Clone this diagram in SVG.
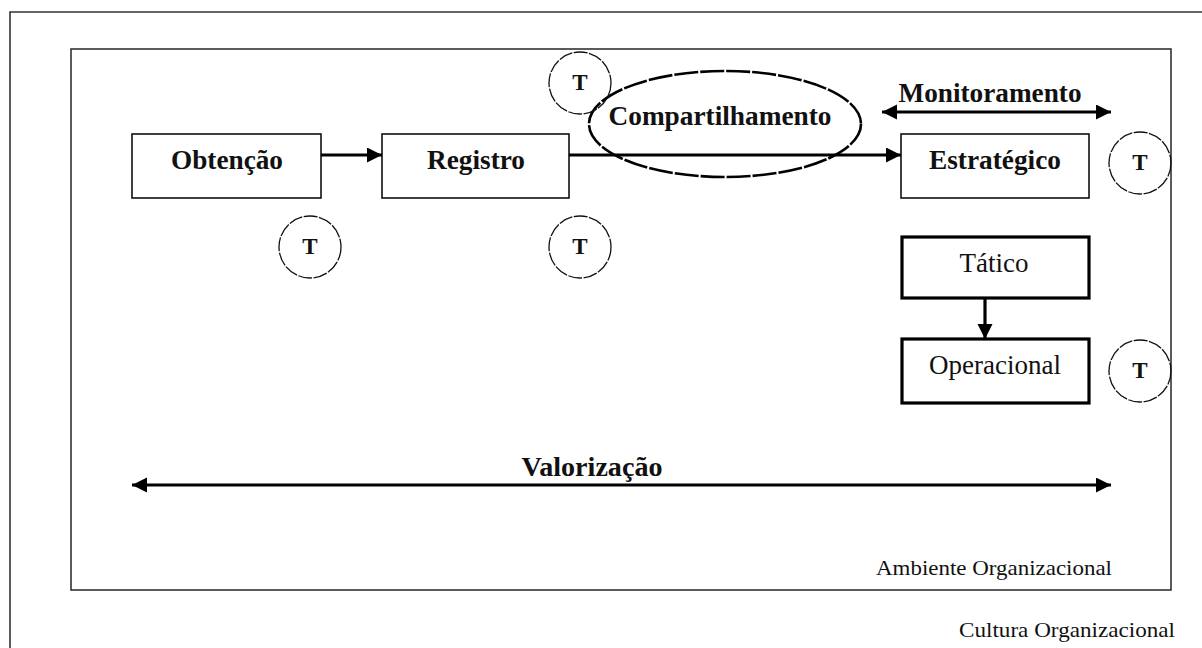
<svg xmlns="http://www.w3.org/2000/svg" width="1202" height="648" viewBox="0 0 1202 648">
<style>
.frame{fill:none;stroke:#333;stroke-width:1.6}
.box{fill:#fff;stroke:#111;stroke-width:1.6}
.tbox{fill:#fff;stroke:#000;stroke-width:3.2}
.tc{fill:none;stroke:#111;stroke-width:1.3;stroke-dasharray:14 1.5}
.lbl{font-family:"Liberation Serif","Times New Roman",serif;font-size:27px;fill:#111;text-anchor:middle}
.b{font-weight:bold}
.env{font-family:"Liberation Serif","Times New Roman",serif;font-size:22px;fill:#111}
.t{font-family:"Liberation Serif","Times New Roman",serif;font-size:23px;font-weight:bold;fill:#111;text-anchor:middle}
.conn{stroke:#000;stroke-width:3.2;fill:none}
</style>
<defs>
<marker id="ah" markerUnits="userSpaceOnUse" markerWidth="16" markerHeight="16" refX="15" refY="7.5" orient="auto-start-reverse">
<path d="M0,0 L15,7.5 L0,15 z" fill="#000"/>
</marker>
</defs>
<rect width="1202" height="648" fill="#fff"/>
<g id="cultura">
<path class="frame" d="M10,660 L10,12 L1215,12"/>
<text class="env" x="959" y="637" textLength="216" lengthAdjust="spacingAndGlyphs">Cultura Organizacional</text>
</g>
<g id="ambiente">
<rect class="frame" x="71" y="49" width="1100" height="541"/>
<text class="env" x="876" y="575" textLength="236" lengthAdjust="spacingAndGlyphs">Ambiente Organizacional</text>
</g>
<g id="compartilhamento">
<ellipse cx="725" cy="124" rx="136" ry="53" fill="none" stroke="#000" stroke-width="2.6" stroke-dasharray="24 2"/>
<text class="lbl b" x="720" y="125" textLength="223" lengthAdjust="spacingAndGlyphs">Compartilhamento</text>
</g>
<g id="obtencao">
<rect class="box" x="132" y="134" width="189" height="64"/>
<text class="lbl b" x="227" y="169" textLength="112" lengthAdjust="spacingAndGlyphs">Obtenção</text>
</g>
<g id="registro">
<rect class="box" x="382" y="134" width="187" height="64"/>
<text class="lbl b" x="476" y="169" textLength="98" lengthAdjust="spacingAndGlyphs">Registro</text>
</g>
<g id="estrategico">
<rect class="box" x="901" y="134" width="188" height="64"/>
<text class="lbl b" x="995" y="169" textLength="132" lengthAdjust="spacingAndGlyphs">Estratégico</text>
</g>
<g id="tatico">
<rect class="tbox" x="902" y="237" width="187" height="61"/>
<text class="lbl" x="994" y="272" textLength="69" lengthAdjust="spacingAndGlyphs">Tático</text>
</g>
<g id="operacional">
<rect class="tbox" x="902" y="339" width="187" height="64"/>
<text class="lbl" x="995" y="374" textLength="132" lengthAdjust="spacingAndGlyphs">Operacional</text>
</g>
<g id="t1"><circle class="tc" cx="580" cy="83" r="31"/><text class="t" x="580" y="90">T</text></g>
<g id="t2"><circle class="tc" cx="310" cy="247" r="31"/><text class="t" x="310" y="254">T</text></g>
<g id="t3"><circle class="tc" cx="580" cy="247" r="31"/><text class="t" x="580" y="254">T</text></g>
<g id="t4"><circle class="tc" cx="1140" cy="163" r="31"/><text class="t" x="1140" y="170">T</text></g>
<g id="t5"><circle class="tc" cx="1140" cy="371" r="31" stroke-width="2" stroke-dasharray="8 2"/><text class="t" x="1140" y="378" font-weight="normal">T</text></g>
<g id="labels">
<text class="lbl b" x="990" y="102" textLength="183" lengthAdjust="spacingAndGlyphs">Monitoramento</text>
<text class="lbl b" x="592" y="476" textLength="141" lengthAdjust="spacingAndGlyphs">Valorização</text>
</g>
<g id="connectors">
<line class="conn" x1="321" y1="155" x2="382" y2="155" marker-end="url(#ah)"/>
<line class="conn" x1="569" y1="155" x2="901" y2="155" marker-end="url(#ah)"/>
<line class="conn" x1="882" y1="112" x2="1111" y2="112" marker-start="url(#ah)" marker-end="url(#ah)"/>
<line class="conn" x1="985" y1="298" x2="985" y2="339" marker-end="url(#ah)"/>
<line class="conn" x1="132" y1="485" x2="1111" y2="485" stroke-width="4" marker-start="url(#ah)" marker-end="url(#ah)"/>
</g>
</svg>
